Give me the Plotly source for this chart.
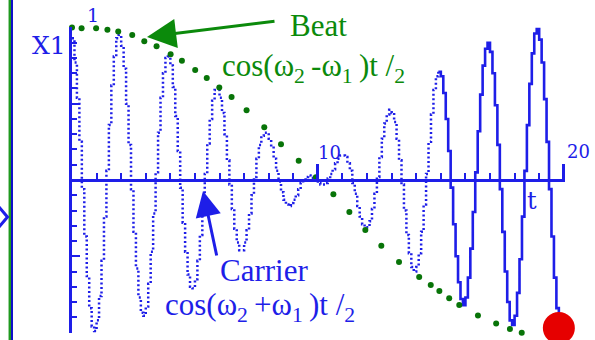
import plotly.graph_objects as go

# ---------------- data ----------------
# sample times of the displacement trace X1(t)
t = [round(0.1 * k, 1) for k in range(199)]
# X1 samples (beat: carrier modulated by slow envelope)
x1 = [
    0.93, 0.77, 0.54, 0.25, -0.06, -0.37, -0.63, -0.84, -0.96, -0.99,
    -0.92, -0.76, -0.53, -0.24, 0.06, 0.36, 0.62, 0.81, 0.93, 0.95,
    0.88, 0.73, 0.50, 0.23, -0.06, -0.34, -0.58, -0.77, -0.87, -0.89,
    -0.83, -0.68, -0.47, -0.22, 0.05, 0.31, 0.54, 0.70, 0.80, 0.81,
    0.75, 0.61, 0.42, 0.19, -0.05, -0.28, -0.47, -0.62, -0.70, -0.71,
    -0.65, -0.53, -0.36, -0.17, 0.04, 0.24, 0.40, 0.52, 0.59, 0.59,
    0.54, 0.44, 0.30, 0.13, -0.03, -0.19, -0.32, -0.41, -0.46, -0.46,
    -0.41, -0.33, -0.22, -0.10, 0.02, 0.14, 0.23, 0.29, 0.31, 0.31,
    0.27, 0.22, 0.14, 0.06, -0.01, -0.08, -0.13, -0.16, -0.17, -0.15,
    -0.13, -0.10, -0.06, -0.02, 0.00, 0.02, 0.03, 0.02, 0.01, 0.00,
    -0.02, -0.03, -0.03, -0.02, 0.01, 0.04, 0.07, 0.11, 0.14, 0.16,
    0.16, 0.15, 0.11, 0.06, -0.02, -0.09, -0.17, -0.24, -0.29, -0.31,
    -0.31, -0.27, -0.19, -0.09, 0.02, 0.15, 0.27, 0.37, 0.43, 0.46,
    0.44, 0.38, 0.27, 0.13, -0.03, -0.20, -0.36, -0.48, -0.57, -0.60,
    -0.57, -0.48, -0.34, -0.16, 0.04, 0.25, 0.43, 0.59, 0.68, 0.71,
    0.68, 0.57, 0.40, 0.19, -0.05, -0.29, -0.50, -0.67, -0.78, -0.82,
    -0.77, -0.64, -0.45, -0.21, 0.05, 0.32, 0.56, 0.75, 0.86, 0.90,
    0.84, 0.70, 0.49, 0.23, -0.06, -0.34, -0.60, -0.80, -0.92, -0.95,
    -0.89, -0.74, -0.52, -0.24, 0.06, 0.36, 0.63, 0.83, 0.96, 0.99,
    0.92, 0.77, 0.53, 0.25, -0.06, -0.37, -0.64, -0.84, -0.97,
]
SOLID_FROM = 149  # trace switches from dotted history to solid line

# beat envelope dots
env_t = [0.0, 0.39, 0.98, 1.44, 1.88, 2.45, 2.94, 3.44, 4.01, 4.47, 5.01,
         5.48, 5.99, 6.49, 7.10, 7.82, 8.50, 9.22, 9.92, 10.63, 11.28,
         11.93, 12.58, 13.30, 14.12, 14.59, 14.94, 15.34, 15.75, 16.51,
         17.25, 17.81, 18.29, 18.71, 19.21]
env_v = [1.00, 0.995, 0.995, 0.985, 0.974, 0.950, 0.910, 0.876, 0.824,
         0.782, 0.721, 0.669, 0.606, 0.544, 0.458, 0.345, 0.235, 0.126,
         0.018, -0.093, -0.209, -0.327, -0.431, -0.538, -0.636, -0.688,
         -0.727, -0.776, -0.819, -0.889, -0.941, -0.976, -1.002, -1.011,
         -1.015]

x_ticks_major = [10, 20]
y_ticks_major = [-1, 1]

BLUE = "#1E1EE8"
GREEN = "#0B8A0B"
DOTGREEN = "#087408"
RED = "#E60000"
SERIF = "Liberation Serif"
PIX = "DejaVu Serif"

# geometry helpers for decorations (pixel -> paper)
L, R, T, B, W, H = 72, 30, 27, 7, 595, 340
PW, PH = W - L - R, H - T - B


def px(xp):
    return (xp - L) / PW


def py(yp):
    return (H - B - yp) / PH


fig = go.Figure()

fig.add_trace(go.Scatter(
    x=t[:SOLID_FROM + 1], y=x1[:SOLID_FROM + 1], mode="lines",
    line=dict(color=BLUE, width=2.5, shape="hv", dash="2px,2.5px"),
    hoverinfo="skip", cliponaxis=False))
fig.add_trace(go.Scatter(
    x=t[SOLID_FROM:], y=x1[SOLID_FROM:], mode="lines",
    line=dict(color=BLUE, width=2.6, shape="hv"),
    hoverinfo="skip", cliponaxis=False))
fig.add_trace(go.Scatter(
    x=env_t, y=env_v, mode="markers",
    marker=dict(color=DOTGREEN, size=6, line=dict(width=0)),
    hoverinfo="skip", cliponaxis=False))
fig.add_trace(go.Scatter(
    x=[t[-1]], y=[x1[-1]], mode="markers",
    marker=dict(color=RED, size=32, line=dict(width=0)),
    hoverinfo="skip", cliponaxis=False))

axis_common = dict(showgrid=False, zeroline=False, showticklabels=False)

fig.update_layout(
    width=W, height=H,
    margin=dict(l=L, r=R, t=T, b=B, pad=0),
    paper_bgcolor="white", plot_bgcolor="white",
    showlegend=False,
    xaxis=dict(range=[0, 20.05], anchor="free", position=0.5,
               showline=True, linecolor=BLUE, linewidth=2.5,
               ticks="inside", tick0=0, dtick=1, ticklen=6,
               tickwidth=2, tickcolor=BLUE, **axis_common),
    xaxis2=dict(range=[0, 20.05], overlaying="x", anchor="free",
                position=0.5, showline=False, ticks="inside",
                tickvals=x_ticks_major, ticklen=16, tickwidth=2.5,
                tickcolor=BLUE, **axis_common),
    yaxis=dict(range=[-1.003, 1.003], showline=True, linecolor=BLUE,
               linewidth=2.5, ticks="inside", tick0=0, dtick=0.5,
               ticklen=8, tickwidth=2, tickcolor=BLUE,
               minor=dict(ticks="inside", dtick=0.1, ticklen=5,
                          tickwidth=2, tickcolor=BLUE),
               **axis_common),
    yaxis2=dict(range=[-1.003, 1.003], overlaying="y", side="left",
                anchor="x", showline=False, ticks="inside",
                tickvals=y_ticks_major, ticklen=16, tickwidth=2.5,
                tickcolor=BLUE, **axis_common),
)
# dummy trace so the overlay axes are rendered
fig.add_trace(go.Scatter(x=[None], y=[None], xaxis="x2", yaxis="y2",
                         showlegend=False, hoverinfo="skip"))

# left border lines
fig.add_shape(type="line", xref="paper", yref="paper", x0=px(9.8), x1=px(9.8),
              y0=-0.1, y1=1.2, line=dict(color="#1F9A1F", width=2.5))
fig.add_shape(type="line", xref="paper", yref="paper", x0=px(12), x1=px(12),
              y0=-0.1, y1=1.2, line=dict(color="#1010C8", width=2))
# small chevron at the left edge
fig.add_shape(type="path", xref="paper", yref="paper",
              path=(f"M {px(-1)},{py(207)} L {px(7.5)},{py(217)} "
                    f"L {px(-1)},{py(227)}"),
              line=dict(color=BLUE, width=3))

ann = []


def label(text, xc, yc, size, color, font=PIX, xanchor="center"):
    ann.append(dict(text=text, xref="paper", yref="paper", x=px(xc), y=py(yc),
                    xanchor=xanchor, yanchor="middle", showarrow=False,
                    font=dict(family=font, size=size, color=color)))


TS = "\u2009"  # thin space to widen around the subscripts


def formula(sign):
    return ("cos(ω<sub>2</sub>" + TS + sign + "ω<sub>1</sub>" + TS +
            ")t /<sub>2</sub>")


label("1", 92.5, 15.5, 19, BLUE)
label("X1", 49, 45, 25, BLUE)
label("10", 329, 152.5, 18, BLUE)
label("20", 578, 151.5, 18, BLUE)
label("t", 531.5, 201, 24, BLUE)

label("Beat", 288, 25, 31, GREEN, font=SERIF, xanchor="left")
label(formula("-"), 220, 68, 31, GREEN, font=SERIF, xanchor="left")
label("Carrier", 218, 270, 31, BLUE, font=SERIF, xanchor="left")
label(formula("+"), 163, 307, 31, BLUE, font=SERIF, xanchor="left")

# arrows
ann.append(dict(text="", xref="paper", yref="paper", x=px(147), y=py(37),
                ax=129, ay=-16, axref="pixel", ayref="pixel", showarrow=True,
                arrowhead=2, arrowsize=1.95, arrowwidth=3, arrowcolor=GREEN,
                standoff=0))
ann.append(dict(text="", xref="paper", yref="paper", x=px(203), y=py(191),
                ax=14, ay=66, axref="pixel", ayref="pixel", showarrow=True,
                arrowhead=2, arrowsize=1.7, arrowwidth=3, arrowcolor=BLUE,
                standoff=0))

fig.update_layout(annotations=ann)

fig.write_html("out.html",
               config={"displayModeBar": False},
               post_script="document.body.style.margin='0px';")
